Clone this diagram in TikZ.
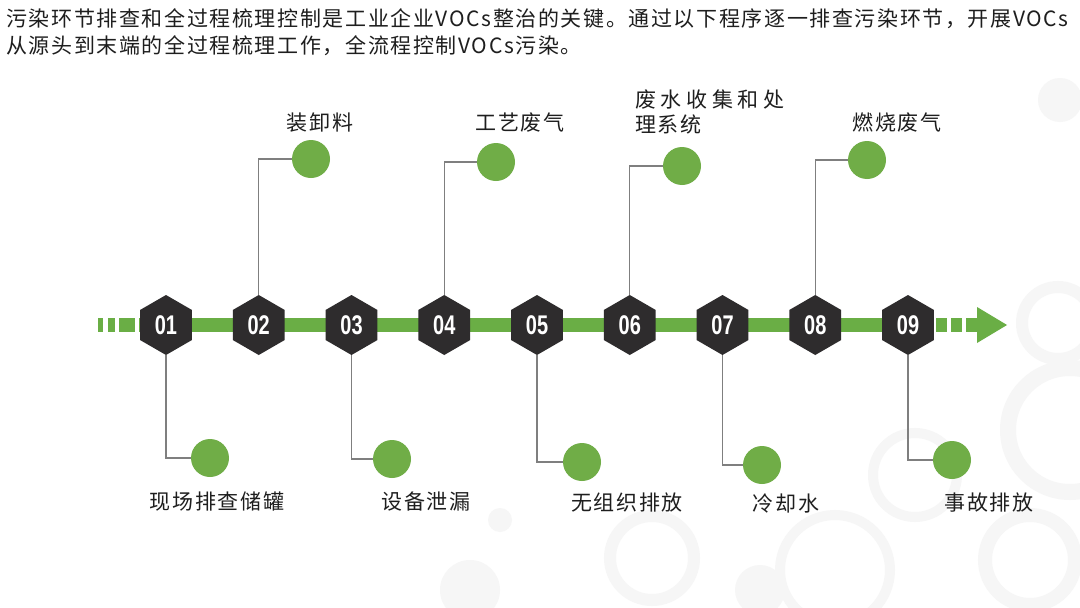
\documentclass[tikz,border=0pt]{standalone}
\usepackage{fontspec}
\usetikzlibrary{shapes.geometric}
\newfontfamily\cjk[LetterSpace=7.7]{Noto Sans CJK SC}
\newfontfamily\cjkwide[LetterSpace=22]{Noto Sans CJK SC}
\newfontfamily\numfont[FakeStretch=0.74]{Liberation Sans}
\definecolor{hexdark}{HTML}{2E2C2D}
\definecolor{dotgreen}{HTML}{70AD47}
\definecolor{bargreen}{HTML}{6AAE45}
\definecolor{linegray}{HTML}{7F7F7F}
\definecolor{txt}{HTML}{1E1E1E}
\definecolor{bgring}{HTML}{F6F6F6}
\tikzset{
  hexnode/.style={regular polygon, regular polygon sides=6, shape border rotate=30,
    minimum size=60pt, inner sep=0pt, fill=hexdark, text=white,
    font=\numfont\bfseries\fontsize{27}{27}\selectfont},
  dot/.style={circle, fill=dotgreen, minimum size=38pt, inner sep=0pt},
  lbl/.style={font=\cjk\fontsize{21}{25}\selectfont, text=txt, inner sep=0pt},
  conn/.style={draw=linegray, line width=1.2pt},
  ring/.style={draw=bgring, line width=#1},
}
\begin{document}
\begin{tikzpicture}[x=1pt,y=-1pt]
\useasboundingbox[fill=white] (0,0) rectangle (1080,608);
% faint background rings
\draw[ring=12pt] (1058,323) circle (36);
\draw[ring=16pt] (1070,430) circle (62);
\draw[ring=10pt] (915,475) circle (42);
\draw[ring=14pt] (1030,560) circle (45);
\draw[ring=12pt] (652,558) circle (42);
\draw[ring=10pt] (835,570) circle (55);
\fill[bgring] (470,590) circle (30);
\fill[bgring] (500,520) circle (12);
\fill[bgring] (1060,100) circle (22);
\fill[bgring] (760,590) circle (25);
% title
\node[lbl, anchor=west] (t1) at (6,19) {污染环节排查和全过程梳理控制是工业企业VOCs整治的关键。通过以下程序逐一排查污染环节，开展VOCs};
\node[lbl, anchor=west] (t2) at (6,46) {从源头到末端的全过程梳理工作，全流程控制VOCs污染。};
% main bar
\fill[bargreen] (98,318) rectangle (103,332);
\fill[bargreen] (108,318) rectangle (115,332);
\fill[bargreen] (119,318) rectangle (135,332);
\fill[bargreen] (139,318) rectangle (933,332);
\fill[bargreen] (936,318) rectangle (947,332);
\fill[bargreen] (951,318) rectangle (962,332);
\fill[bargreen] (966,318) rectangle (978,332);
\fill[bargreen] (977,307) -- (1007,325) -- (977,343) -- cycle;
% hexagons
\foreach \i/\n in {1/01,2/02,3/03,4/04,5/05,6/06,7/07,8/08,9/09}{
  \node[hexnode] (h\i) at ({166+92.75*(\i-1)},325) {\n};
}
% dots
\node[dot] (c2) at (311,159) {};
\node[dot] (c4) at (496,162) {};
\node[dot] (c6) at (682,166) {};
\node[dot] (c8) at (867,160) {};
\node[dot] (c1) at (210,458) {};
\node[dot] (c3) at (392,459) {};
\node[dot] (c5) at (582,462) {};
\node[dot] (c7) at (762,465) {};
\node[dot] (c9) at (952,460) {};
% connectors
\foreach \i in {2,4,6,8}{ \draw[conn] (h\i.90) |- (c\i); }
\foreach \i in {1,3,5,7,9}{ \draw[conn] (h\i.270) |- (c\i); }
% labels
\node[lbl] (l2) at (320,123) {装卸料};
\node[lbl] (l4) at (520,123) {工艺废气};
\node[lbl, anchor=south west, align=left] (l6) at (635,134) {{\cjkwide 废水收集和处}\\理系统};
\node[lbl] (l8) at (897,123) {燃烧废气};
\node[lbl] (l1) at (217,502) {现场排查储罐};
\node[lbl] (l3) at (426,502) {设备泄漏};
\node[lbl] (l5) at (627,503) {无组织排放};
\node[lbl] (l7) at (786,504) {冷却水};
\node[lbl] (l9) at (989,503) {事故排放};
\end{tikzpicture}
\end{document}
